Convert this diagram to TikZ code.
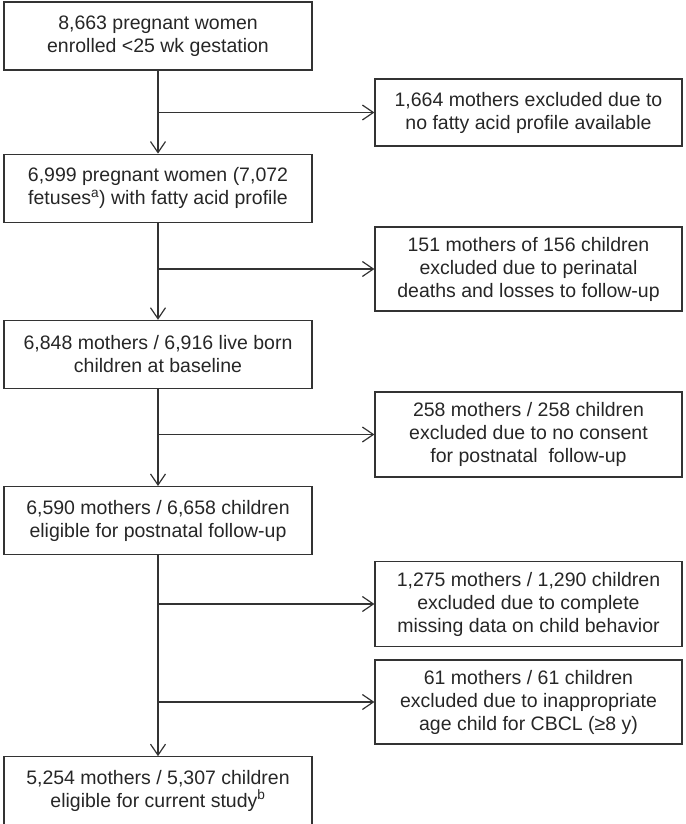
\documentclass[tikz,border=0pt]{standalone}
\usepackage{fontspec}
\setmainfont{Liberation Sans}
\usetikzlibrary{arrows.meta, positioning}

\begin{document}
\begin{tikzpicture}[x=1pt, y=1pt,
  every node/.style={font=\fontsize{19.5}{23}\selectfont, text=black!85},
  mainbox/.style={rectangle, draw=black!80, line width=1.2pt,
                  minimum width=308pt, minimum height=68pt,
                  inner sep=0pt, align=center},
  exclbox/.style={rectangle, draw=black!80, line width=1.2pt,
                  minimum width=307pt, inner sep=0pt, align=center},
  arr/.style={-{Straight Barb[length=11pt, width=15pt]}, line width=1.2pt,
              black!80},
]
  \useasboundingbox (0,0) rectangle (685,-824);

  % Main flow
  \node[mainbox] (enrolled) at (158,-36)
        {8,663 pregnant women\\enrolled <25 wk gestation};
  \node[mainbox, below=83pt of enrolled] (profile)
        {6,999 pregnant women (7,072\\fetuses\textsuperscript{a}) with fatty acid profile};
  \node[mainbox, below=97pt of profile] (liveborn)
        {6,848 mothers / 6,916 live born\\children at baseline};
  \node[mainbox, below=97pt of liveborn] (eligible)
        {6,590 mothers / 6,658 children\\eligible for postnatal follow-up};
  \node[mainbox, below=201pt of eligible] (current)
        {5,254 mothers / 5,307 children\\eligible for current study\textsuperscript{b}};

  % Exclusions
  \node[exclbox, minimum height=67pt] (noprofile) at (528.5,-112.5)
        {1,664 mothers excluded due to\\no fatty acid profile available};
  \node[exclbox, minimum height=84pt] (perinatal) at (528.5,-269)
        {151 mothers of 156 children\\excluded due to perinatal\\deaths and losses to follow-up};
  \node[exclbox, minimum height=85pt] (noconsent) at (528.5,-434.5)
        {258 mothers / 258 children\\excluded due to no consent\\for postnatal~ follow-up};
  \node[exclbox, minimum height=85pt] (missing) at (528.5,-604)
        {1,275 mothers / 1,290 children\\excluded due to complete\\missing data on child behavior};
  \node[exclbox, minimum height=84pt] (agecbcl) at (528.5,-702)
        {61 mothers / 61 children\\excluded due to inappropriate\\age child for CBCL (≥8 y)};

  % Arrows main flow
  \foreach \a/\b in {enrolled/profile, profile/liveborn, liveborn/eligible,
                      eligible/current}
    \draw[arr] (\a) -- (\b);

  % Exclusion branches
  \foreach \a/\b in {enrolled/noprofile, profile/perinatal, liveborn/noconsent,
                      eligible/missing, eligible/agecbcl}
    \draw[arr] (\a.south |- \b.west) -- (\b.west);

\end{tikzpicture}
\end{document}
